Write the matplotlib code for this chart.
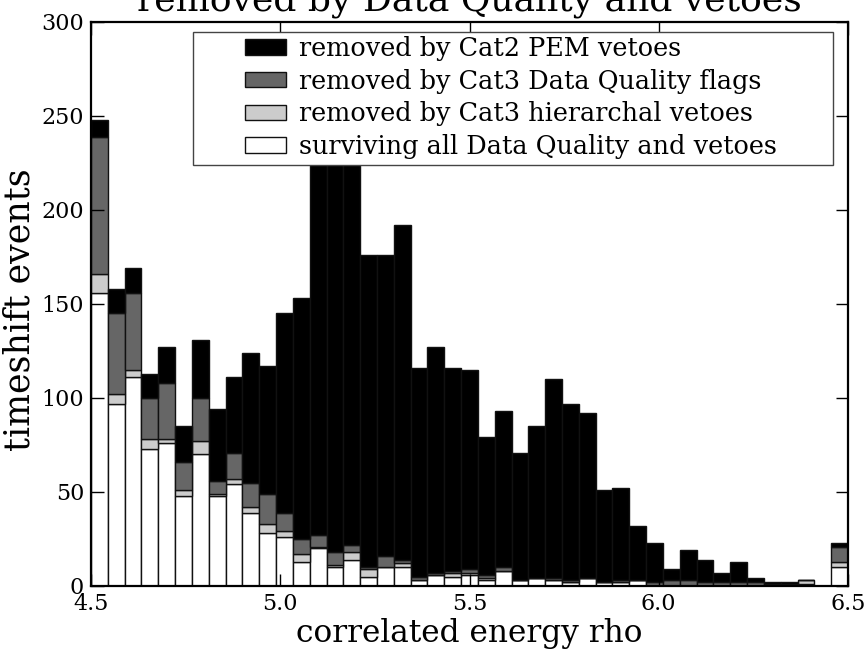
import numpy as np
import matplotlib
matplotlib.use("Agg")
import matplotlib.pyplot as plt
from matplotlib.patches import Patch, Rectangle

# histogram range and binning of correlated energy rho
rho_min = 4.5
rho_max = 6.5
n_bins = 45

# counts per bin, split by what removed them
surviving = [156, 97, 111, 73, 76, 48, 70, 48, 54, 39, 28, 26, 13, 20, 10,
             14, 5, 10, 10, 3, 6, 5, 6, 3, 8, 3, 4, 3, 2, 4,
             2, 2, 3, 0, 0, 0, 0, 0, 0, 0, 0, 0, 1, 0, 10]
cat3_hier = [10, 5, 4, 5, 2, 3, 7, 1, 3, 3, 5, 3, 4, 1, 1,
             4, 4, 0, 2, 0, 0, 2, 1, 1, 0, 0, 0, 0, 0, 0,
             0, 0, 0, 0, 0, 0, 0, 0, 0, 0, 0, 0, 2, 0, 3]
cat3_dq = [73, 43, 41, 22, 30, 15, 23, 7, 14, 13, 16, 10, 8, 6, 7,
           4, 1, 6, 2, 2, 1, 1, 2, 2, 2, 0, 0, 1, 1, 0,
           0, 1, 0, 2, 3, 3, 2, 2, 2, 2, 1, 1, 0, 0, 8]
cat2_pem = [9, 13, 13, 13, 19, 19, 31, 38, 40, 69, 68, 106, 128, 238, 272,
            233, 166, 160, 178, 111, 120, 108, 106, 73, 83, 68, 81, 106, 94, 88,
            49, 49, 29, 21, 6, 16, 12, 5, 11, 2, 1, 1, 0, 0, 2]

labels = ["removed by Cat2 PEM vetoes",
          "removed by Cat3 Data Quality flags",
          "removed by Cat3 hierarchal vetoes",
          "surviving all Data Quality and vetoes"]
colors = ["#000000", "#666666", "#cccccc", "#ffffff"]

plt.rcParams['font.family'] = ['DejaVu Serif']

edges = np.linspace(rho_min, rho_max, n_bins + 1)
width = edges[1] - edges[0]
left = edges[:-1]

W, H = 865, 650
fig = plt.figure(figsize=(W / 100, H / 100), dpi=100)
ax = fig.add_axes([91/W, 64/H, 757/W, 564/H])

# stack from the bottom: survivors, then each removal category
layers = [surviving, cat3_hier, cat3_dq, cat2_pem]
layer_colors = colors[::-1]
bottom = np.zeros(n_bins)
for vals, c in zip(layers, layer_colors):
    vals = np.array(vals, dtype=float)
    ax.bar(left, vals, width=width, bottom=bottom, align='edge',
           color=c, edgecolor='#111111', linewidth=1.0)
    bottom += vals

ax.set_xlim(rho_min, rho_max)
ax.set_ylim(0, 300)
ax.set_xticks([4.5, 5.0, 5.5, 6.0, 6.5])
ax.set_xticklabels(["4.5", "5.0", "5.5", "6.0", "6.5"])
ax.set_yticks(np.arange(0, 301, 50))
ax.tick_params(direction='in', length=9, width=1, top=True, right=True,
               labelsize=16, pad=5)
for sp in ax.spines.values():
    sp.set_linewidth(1.6)

ax.set_xlabel("correlated energy rho", fontsize=22.5, labelpad=2)
ax.set_ylabel("timeshift events", fontsize=25)
ax.yaxis.set_label_coords(-0.072, 0.49)

# legend box drawn by hand so it can be wider than its contents
box = Rectangle((193/W, 1 - 165/H), 640/W, 133/H, transform=fig.transFigure,
                facecolor='white', edgecolor='#444444', linewidth=1.0,
                zorder=4, clip_on=False)
ax.add_patch(box)

handles = [Patch(facecolor=c, edgecolor='#111111', linewidth=1.0) for c in colors]
leg = ax.legend(handles, labels, loc='upper left', fontsize=18.4,
                bbox_to_anchor=(245/W, 1 - 36/H), bbox_transform=fig.transFigure,
                frameon=False, borderpad=0, borderaxespad=0,
                handlelength=1.6, handleheight=0.55, labelspacing=0.3,
                handletextpad=0.5)
leg.set_zorder(5)

fig.text(469.5/W, 1 - 10/H, "removed by Data Quality and vetoes",
         ha='center', va='baseline', fontsize=26)

fig.savefig("out.png", dpi=100)
